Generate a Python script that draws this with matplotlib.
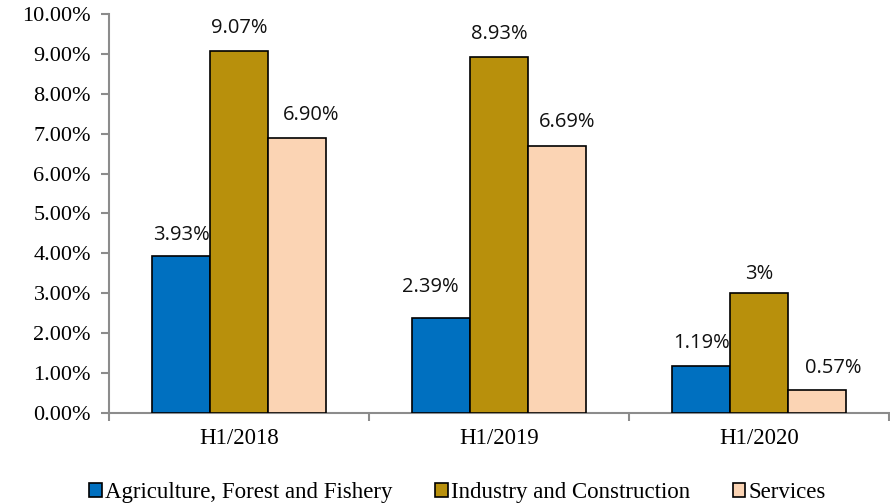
import numpy as np
import matplotlib.pyplot as plt
from matplotlib.ticker import FuncFormatter, FixedLocator

periods = ["H1/2018", "H1/2019", "H1/2020"]
sectors = ["Agriculture, Forest and Fishery", "Industry and Construction", "Services"]
agriculture = [3.93, 2.39, 1.19]
industry = [9.07, 8.93, 3.0]
services = [6.90, 6.69, 0.57]
value_labels = [["3.93%", "2.39%", "1.19%"],
                ["9.07%", "8.93%", "3%"],
                ["6.90%", "6.69%", "0.57%"]]

colors = ["#0070C0", "#B8900C", "#FBD4B4"]
# hand-placed label offsets (points) relative to bar top centre
label_offsets = [[(0, 15), (-8, 22), (0, 16)],
                 [(0, 17), (0, 16), (0, 14)],
                 [(10, 16), (7, 17), (12, 16)]]

serif = "Liberation Serif"
sans = "Open Sans"

fig = plt.figure(figsize=(8.9, 5.04), dpi=100)
ax = fig.add_axes([0.1225, 0.1806, 0.8765, 0.7916])

x = np.arange(len(periods))
width = 0.223
series = [agriculture, industry, services]
for i, (vals, col) in enumerate(zip(series, colors)):
    pos = x + (i - 1) * width
    bars = ax.bar(pos, vals, width, color=col, edgecolor="black", linewidth=1.2,
                  label=sectors[i], zorder=3)
    for j, b in enumerate(bars):
        ax.annotate(value_labels[i][j], (b.get_x() + b.get_width() / 2, b.get_height()),
                    xytext=label_offsets[i][j], textcoords="offset points",
                    ha="center", va="center", fontsize=14.5, family=sans, color="#111111")

ax.set_xlim(-0.5, 2.5)
ax.set_ylim(0, 10)
ax.set_yticks(np.arange(0, 11, 1))
ax.yaxis.set_major_formatter(FuncFormatter(lambda v, p: f"{v:.2f}%"))
ax.set_xticks(x)
ax.set_xticklabels(periods)
ax.xaxis.set_minor_locator(FixedLocator([-0.5, 0.5, 1.5, 2.5]))
ax.tick_params(axis="x", which="major", length=0, pad=11)
ax.tick_params(axis="x", which="minor", length=6, width=1.5, color="#8c8c8c")
ax.tick_params(axis="y", length=6, width=1.5, color="#8c8c8c", pad=7)
for lab in ax.get_xticklabels():
    lab.set_family(serif)
    lab.set_fontsize(16.5)
for lab in ax.get_yticklabels():
    lab.set_family(serif)
    lab.set_fontsize(16)

for s in ["top", "right"]:
    ax.spines[s].set_visible(False)
for s in ["left", "bottom"]:
    ax.spines[s].set_color("#8c8c8c")
    ax.spines[s].set_linewidth(1.5)

fig.legend(loc="center", bbox_to_anchor=(0.514, 0.022), ncol=3, frameon=False,
           prop={"family": serif, "size": 16.5}, handlelength=0.55, handleheight=0.55,
           handletextpad=0.15, columnspacing=1.85, borderpad=0)

fig.savefig("out.png", dpi=100)
